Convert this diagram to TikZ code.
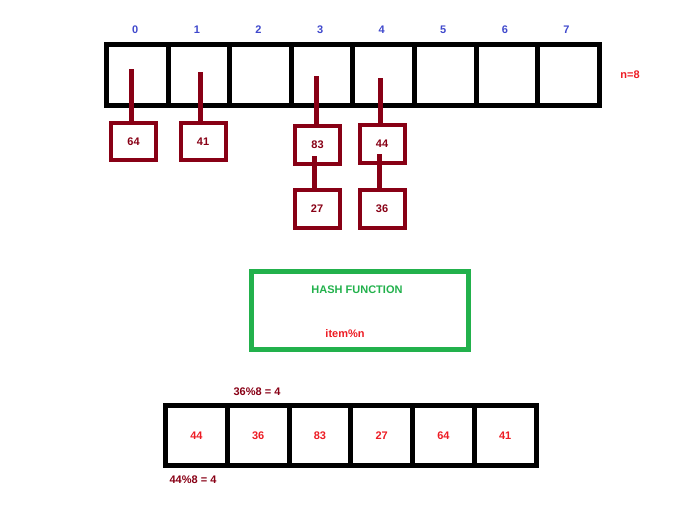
\documentclass[tikz,border=0pt]{standalone}
\usepackage{fontspec}
\setmainfont{Liberation Sans}
\definecolor{idxblue}{HTML}{3F48CC}
\definecolor{valred}{HTML}{ED1C24}
\definecolor{chainred}{HTML}{880015}
\definecolor{hashgreen}{HTML}{22B14C}
\tikzset{
  txt/.style={inner sep=0pt,font=\fontsize{11}{13}\selectfont\bfseries},
  cell/.style={draw=black,line width=5pt,minimum width=61.7pt,minimum height=60.5pt,inner sep=0pt,outer sep=0pt},
  chainbox/.style={draw=chainred,line width=4pt,minimum width=45pt,minimum height=37.5pt,inner sep=0pt,text=chainred,txt},
  chain/.style={draw=chainred,line width=5pt}
}
\begin{document}
\begin{tikzpicture}[x=1pt,y=-1pt]
  \useasboundingbox (0,0) rectangle (695,511);
  \pgfmathsetmacro\cw{61.6}
  \pgfmathsetmacro\tx{106.5}   % left edge of the table

% hash table with n=8 slots
  \foreach \i in {0,...,7} {
    \node[cell] (c\i) at ({\tx+(\i+0.5)*\cw},74.75) {};
    \node[txt,text=idxblue] (i\i) at ({\tx+(\i+0.5)*\cw-2},30) {\i};
  }
  \node[txt,text=valred] (n) at (630,75) {n=8};

% chained items
  \node[chainbox] (v64) at (133.5,141.5) {64};
  \node[chainbox] (v41) at (203,141.5) {41};
  \node[chainbox] (v83) at (317.5,145) {83};
  \node[chainbox] (v44) at (382,144) {44};
  \node[chainbox] (v27) at (317,209) {27};
  \node[chainbox] (v36) at (382,209) {36};

  \coordinate (p0) at (131,69);
  \coordinate (p1) at (200,72);
  \coordinate (p3) at (316,76);
  \coordinate (p4) at (380,78);
  \coordinate (q3) at (314,156);
  \coordinate (q4) at (379,154);
  \draw[chain] (p0) -- (p0 |- v64.north);
  \draw[chain] (p1) -- (p1 |- v41.north);
  \draw[chain] (p3) -- (p3 |- v83.north);
  \draw[chain] (p4) -- (p4 |- v44.north);
  \draw[chain] (q3) -- (q3 |- v27.north);
  \draw[chain] (q4) -- (q4 |- v36.north);

% hash function
  \node[draw=hashgreen,line width=5pt,minimum width=217pt,minimum height=78pt] (hash) at (360,310.5) {};
  \node[txt,text=hashgreen] (hname) at (357,290) {HASH FUNCTION};
  \node[txt,text=valred] (hrule) at (345,334) {item\%n};

% resulting array
  \pgfmathsetmacro\bx{165.5}
  \pgfmathsetmacro\bw{61.75}
  \foreach \v [count=\j from 0] in {44,36,83,27,64,41}
    \node[cell,minimum width=\bw pt,minimum height=60pt,txt,text=valred] (b\j) at ({\bx+(\j+0.5)*\bw},435.5) {\v};
  \node[txt,text=chainred] (m36) at (257,392) {36\%8 = 4};
  \node[txt,text=chainred] (m44) at (193,480) {44\%8 = 4};
\end{tikzpicture}
\end{document}
